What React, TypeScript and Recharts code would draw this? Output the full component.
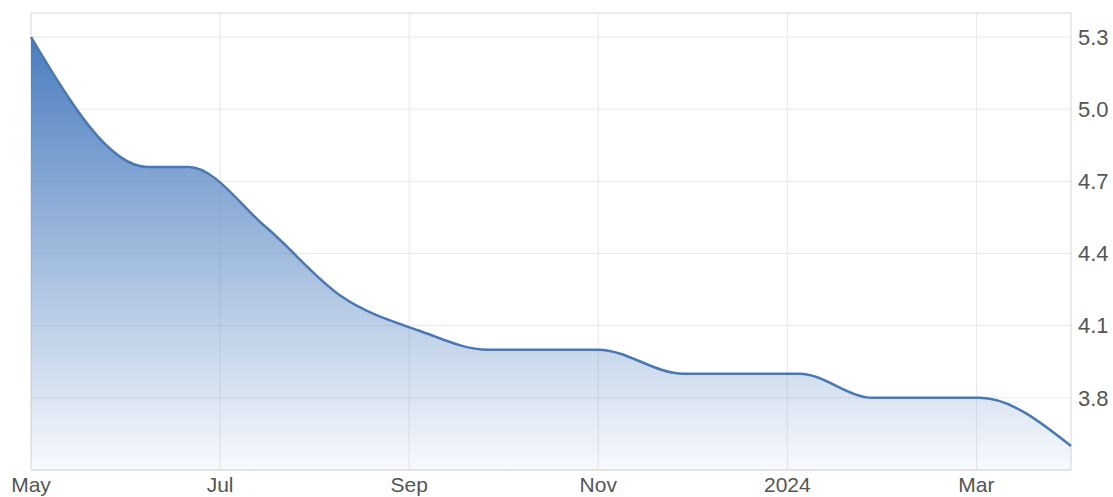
import { AreaChart, Area, XAxis, YAxis, CartesianGrid, ReferenceArea } from "recharts";

const pointDates = [
  "2023-05-01", "2023-06-08", "2023-06-21", "2023-07-16", "2023-08-10", "2023-09-04",
  "2023-09-26", "2023-11-01", "2023-11-28", "2024-01-05", "2024-01-29", "2024-03-02", "2024-04-01",
];
const pointValues = [5.3, 4.76, 4.76, 4.51, 4.22, 4.08, 4.0, 4.0, 3.9, 3.9, 3.8, 3.8, 3.6];

// x axis: months counted from May 2023
const monthTicks = [0, 2, 4, 6, 8, 10];
const monthLabels = ["May", "Jul", "Sep", "Nov", "2024", "Mar"];
const yTicks = [3.8, 4.1, 4.4, 4.7, 5.0, 5.3];

const START_YEAR = 2023;
const START_MONTH = 5;

// turn a date into a fractional month index so each month gets the same width
function monthIndex(date: string) {
  const [y, m, d] = date.split("-").map(Number);
  const daysInMonth = new Date(y, m, 0).getDate();
  return (y - START_YEAR) * 12 + (m - START_MONTH) + (d - 1) / daysInMonth;
}

const data = pointDates.map((date, i) => ({ m: monthIndex(date), value: pointValues[i] }));

export default function App() {
  return (
    <div style={{ position: "absolute", left: 0, top: 0, fontFamily: "'Liberation Sans', Arial, sans-serif" }}>
      <AreaChart width={1113} height={497} data={data} margin={{ top: 13, right: 0, bottom: 0, left: 31 }}>
        <defs>
          <linearGradient id="areaFill" x1="0" y1="0" x2="0" y2="1">
            <stop offset="0%" stopColor="#4a7dbf" stopOpacity={1} />
            <stop offset="100%" stopColor="#4a7dbf" stopOpacity={0.04} />
          </linearGradient>
        </defs>
        <CartesianGrid stroke="#e8e8e8" />
        <ReferenceArea x1={0} x2={11} y1={3.5} y2={5.4} fill="none" stroke="#e2e2e2" />
        <XAxis
          type="number"
          dataKey="m"
          domain={[0, 11]}
          ticks={monthTicks}
          tickFormatter={(v: number) => monthLabels[monthTicks.indexOf(v)] ?? ""}
          axisLine={{ stroke: "#dcdcdc" }}
          tickLine={false}
          tickSize={0}
          tickMargin={7}
          height={27}
          tick={{ fill: "#555555", fontSize: 21 }}
          interval={0}
        />
        <YAxis
          orientation="right"
          domain={[3.5, 5.4]}
          ticks={yTicks}
          tickFormatter={(v: number) => v.toFixed(1)}
          axisLine={false}
          tickLine={false}
          tickSize={0}
          tickMargin={7}
          width={42}
          tick={{ fill: "#555555", fontSize: 22 }}
          interval={0}
        />
        <Area
          type="monotone"
          dataKey="value"
          stroke="#4a78b5"
          strokeWidth={2.5}
          fill="url(#areaFill)"
          fillOpacity={1}
          dot={false}
          activeDot={false}
          isAnimationActive={false}
        />
      </AreaChart>
    </div>
  );
}
